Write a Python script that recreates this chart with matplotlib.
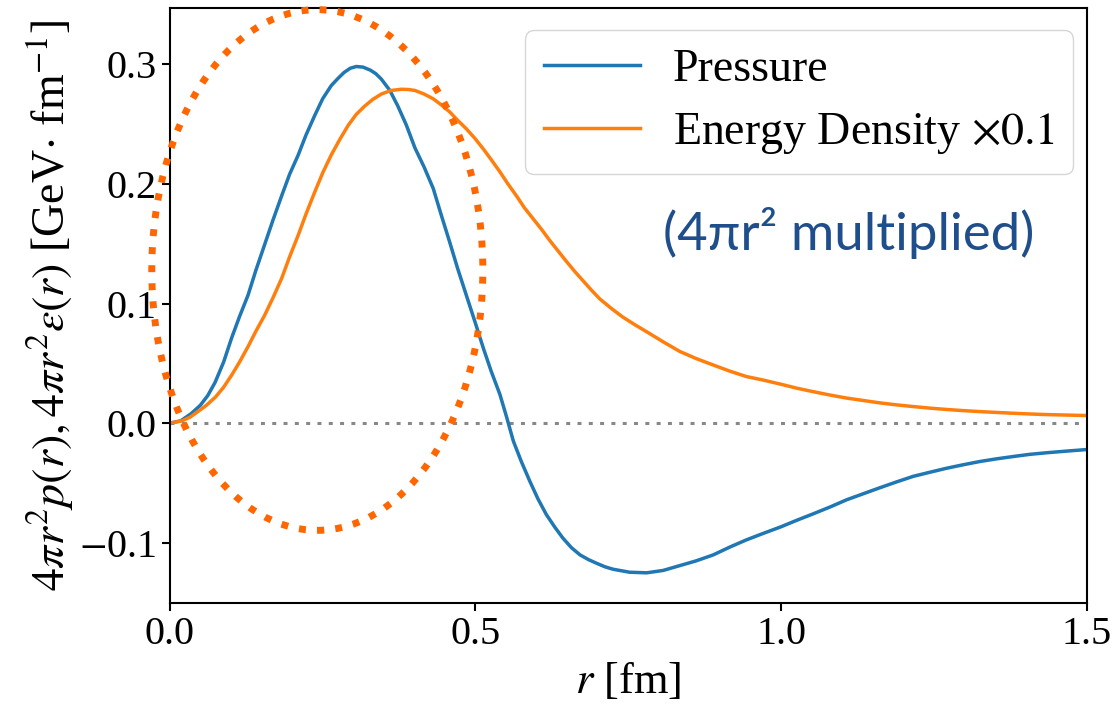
import matplotlib
matplotlib.use("Agg")
import matplotlib.pyplot as plt
from matplotlib.patches import Ellipse

plt.rcParams['font.family'] = ['Liberation Serif', 'DejaVu Serif']
plt.rcParams['mathtext.fontset'] = 'stix'

# pressure, 4 pi r^2 p(r)
r_p = [0.0, 0.018, 0.035, 0.050, 0.062, 0.074, 0.088, 0.101, 0.114, 0.128, 0.141,
       0.155, 0.169, 0.183, 0.196, 0.210, 0.223, 0.237, 0.250, 0.264, 0.275, 0.285,
       0.295, 0.305, 0.316, 0.328, 0.337, 0.346, 0.360, 0.373, 0.387, 0.401, 0.416,
       0.431, 0.444, 0.458, 0.471, 0.485, 0.499, 0.513, 0.526, 0.540, 0.551, 0.562,
       0.575, 0.589, 0.602, 0.616, 0.630, 0.643, 0.657, 0.671, 0.685, 0.698, 0.712,
       0.725, 0.752, 0.780, 0.807, 0.834, 0.861, 0.889, 0.916, 0.943, 0.971, 1.0,
       1.026, 1.052, 1.080, 1.107, 1.134, 1.161, 1.189, 1.216, 1.243, 1.270, 1.298,
       1.325, 1.352, 1.380, 1.407, 1.434, 1.467, 1.5]
pressure = [0.0, 0.002, 0.008, 0.015, 0.023, 0.034, 0.051, 0.071, 0.089, 0.107, 0.128,
            0.149, 0.170, 0.190, 0.208, 0.224, 0.241, 0.257, 0.271, 0.282, 0.288, 0.293,
            0.2965, 0.298, 0.2975, 0.295, 0.292, 0.2875, 0.278, 0.265, 0.249, 0.230, 0.214,
            0.196, 0.174, 0.151, 0.129, 0.107, 0.085, 0.0625, 0.043, 0.024, 0.005, -0.015,
            -0.032, -0.0486, -0.063, -0.0764, -0.087, -0.096, -0.104, -0.110, -0.114, -0.117, -0.120,
            -0.122, -0.1245, -0.125, -0.123, -0.119, -0.115, -0.110, -0.1035, -0.0975, -0.092, -0.0865,
            -0.081, -0.0758, -0.070, -0.064, -0.059, -0.054, -0.049, -0.0444, -0.041, -0.0377, -0.0347,
            -0.032, -0.0298, -0.0278, -0.026, -0.0247, -0.0233, -0.022]

# energy density x 0.1, 4 pi r^2 eps(r)
r_e = [0.0, 0.020, 0.033, 0.046, 0.060, 0.075, 0.088, 0.101, 0.114, 0.128, 0.141,
       0.155, 0.169, 0.183, 0.196, 0.210, 0.223, 0.237, 0.250, 0.264, 0.278, 0.292,
       0.305, 0.319, 0.332, 0.346, 0.362, 0.379, 0.390, 0.401, 0.416, 0.431, 0.444,
       0.458, 0.471, 0.485, 0.499, 0.513, 0.526, 0.540, 0.553, 0.567, 0.580, 0.594,
       0.608, 0.621, 0.635, 0.649, 0.662, 0.676, 0.690, 0.703, 0.722, 0.740, 0.760,
       0.780, 0.807, 0.834, 0.861, 0.889, 0.916, 0.943, 0.971, 1.0, 1.026, 1.052,
       1.080, 1.107, 1.134, 1.161, 1.189, 1.216, 1.243, 1.270, 1.298, 1.325, 1.352,
       1.380, 1.407, 1.434, 1.467, 1.5]
energy = [0.0, 0.002, 0.005, 0.0097, 0.015, 0.022, 0.030, 0.040, 0.051, 0.064, 0.077,
          0.090, 0.105, 0.121, 0.139, 0.157, 0.175, 0.193, 0.209, 0.224, 0.237, 0.249,
          0.258, 0.265, 0.2705, 0.275, 0.278, 0.279, 0.2788, 0.278, 0.275, 0.271, 0.266,
          0.260, 0.253, 0.246, 0.238, 0.229, 0.220, 0.210, 0.200, 0.190, 0.180, 0.171,
          0.162, 0.153, 0.144, 0.135, 0.127, 0.119, 0.111, 0.104, 0.096, 0.089, 0.0825,
          0.0764, 0.068, 0.060, 0.054, 0.0486, 0.0435, 0.039, 0.036, 0.0325, 0.0292, 0.0264,
          0.0235, 0.0210, 0.019, 0.017, 0.0153, 0.0139, 0.0126, 0.0115, 0.0105, 0.0097, 0.009,
          0.0083, 0.0077, 0.0072, 0.0068, 0.0064]

xticks = [0.0, 0.5, 1.0, 1.5]
yticks = [-0.1, 0.0, 0.1, 0.2, 0.3]

fig = plt.figure(figsize=(11.17, 7.15), dpi=100)
ax = fig.add_axes([0.152, 0.157, 0.821, 0.832])

ax.plot(r_p, pressure, color='#1f77b4', lw=2.5, label='Pressure')
ax.plot(r_e, energy, color='#ff7f0e', lw=2.5, label=r'Energy Density $\times 0.1$')
ax.axhline(0, color='#888888', lw=2.2, linestyle=(0, (1.3, 2.4)), zorder=1)

ax.set_xlim(0, 1.5)
ax.set_ylim(-0.15, 0.347)
ax.set_xticks(xticks)
ax.set_yticks(yticks)
ax.set_xticklabels(['0.0', '0.5', '1.0', '1.5'])
ax.set_yticklabels(['$-$0.1', '0.0', '0.1', '0.2', '0.3'])
ax.tick_params(labelsize=29, width=1.5, length=6)
for s in ax.spines.values():
    s.set_linewidth(1.5)

ax.set_xlabel(r'$r$ [fm]', fontsize=32, labelpad=6)
ax.set_ylabel(r'$4\pi r^2 p(r), 4\pi r^2\epsilon(r)$ [GeV$\cdot$ fm$^{-1}$]', fontsize=33, labelpad=2)

ax.legend(loc='upper right', bbox_to_anchor=(0.985, 0.962), borderaxespad=0,
          fontsize=33, handlelength=2.1, handletextpad=0.72, labelspacing=0.42,
          borderpad=0.4, framealpha=0.8)

ell = Ellipse((0.2413, 0.128), 0.5415, 0.435, fill=False, edgecolor='#FF6600',
              lw=5, linestyle=(0, (1, 1.6)), clip_on=False, zorder=5)
ax.add_patch(ell)

ax.text(0.538, 0.622, '(4πr² multiplied)', transform=ax.transAxes, color='#1F4E8C',
        fontsize=38, family=['Lato', 'DejaVu Sans'], va='center', ha='left', zorder=6)

fig.savefig('out.png', dpi=100)
